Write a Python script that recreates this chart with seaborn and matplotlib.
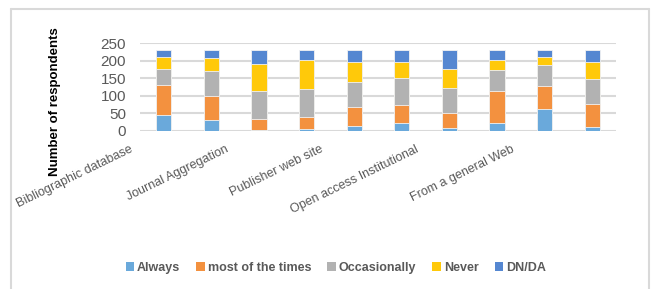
import numpy as np
import matplotlib
matplotlib.use("Agg")
import matplotlib.pyplot as plt
import seaborn as sns
from matplotlib.lines import Line2D
from matplotlib.patches import Patch
from matplotlib.transforms import ScaledTranslation

sns.set_style("white")
plt.rcParams['font.family'] = ['Liberation Sans', 'DejaVu Sans']

# ----------------------------------------
# Data
# ----------------------------------------
sources = ["Bibliographic database", "", "Journal Aggregation", "",
           "Publisher web site", "", "Open access Institutional", "",
           "From a general Web", ""]
series = ["Always", "most of the times", "Occasionally", "Never", "DN/DA"]
always = [44, 30, 2, 4, 14, 21, 7, 22, 62, 11]
most_times = [85, 70, 30, 35, 52, 53, 44, 90, 64, 65]
occasionally = [48, 71, 80, 81, 73, 75, 71, 61, 61, 71]
never = [34, 35, 78, 81, 56, 48, 54, 28, 22, 48]
dn_da = [18, 23, 39, 28, 34, 32, 53, 28, 20, 34]
colors = ['#6AA9DB', '#F3913F', '#B2B2B2', '#FFC90A', '#5587D1']

values = np.array([always, most_times, occasionally, never, dn_da])
cum = values.cumsum(axis=0)
pos = np.arange(len(sources))

fig = plt.figure(figsize=(6.52, 2.89), dpi=100)
ax = fig.add_axes([0.2147, 0.5484, 0.730, 0.3028])

# stacked bars: draw the tallest cumulative first, then the lower ones over it
for k in range(len(series) - 1, -1, -1):
    sns.barplot(x=pos, y=cum[k], color=colors[k], width=0.32, ax=ax,
                edgecolor='#F2F2F2', linewidth=0.6, saturation=1)

ax.set_xlim(-0.5, len(sources) - 0.5)
ax.set_ylim(0, 250)
ax.set_yticks([0, 50, 100, 150, 200, 250])
ax.yaxis.grid(True, color='#D9D9D9', linewidth=1.5)
ax.set_axisbelow(True)
for s in ax.spines.values():
    s.set_visible(False)
ax.tick_params(axis='y', length=0, pad=10, labelsize=11, labelcolor='#595959')
ax.tick_params(axis='x', length=0, pad=2, labelsize=9, labelcolor='#595959')

ax.set_xticks(pos)
ax.set_xticklabels(sources, rotation=26, ha='right', va='top',
                   rotation_mode='anchor')
for lab in ax.get_xticklabels():
    lab.set_transform(lab.get_transform() +
                      ScaledTranslation(-0.34, -0.10, fig.dpi_scale_trans))
ax.set_xlabel('')

fig.text(0.085, 0.647, 'Number of respondents', rotation=90, ha='center',
         va='center', fontsize=9.5, fontweight='bold', color='black')

handles = [Patch(facecolor=c, edgecolor='none') for c in colors]
leg = fig.legend(handles, series, loc='center', bbox_to_anchor=(0.515, 0.072),
                 ncol=5, frameon=False, handlelength=0.7, handleheight=0.7,
                 handletextpad=0.2, columnspacing=1.3,
                 prop={'size': 9, 'weight': 'bold'})
for t in leg.get_texts():
    t.set_color('#595959')

# outer chart frame (bottom edge cropped off in the reference)
W, H = 652, 289
frame = dict(color='#D9D9D9', linewidth=1.5, transform=fig.transFigure)
fig.add_artist(Line2D([11 / W, 649 / W], [1 - 9 / H, 1 - 9 / H], **frame))
fig.add_artist(Line2D([11 / W, 11 / W], [0, 1 - 9 / H], **frame))
fig.add_artist(Line2D([649 / W, 649 / W], [0, 1 - 9 / H], **frame))

fig.savefig('out.png', dpi=100)
